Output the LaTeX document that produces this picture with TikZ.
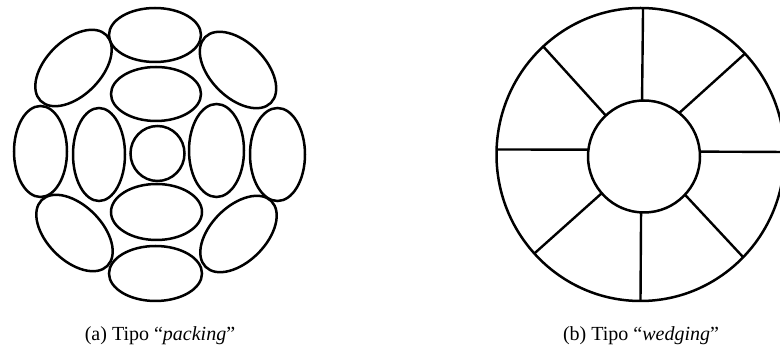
\documentclass[tikz,border=0pt]{standalone}
\usepackage{fontspec}
\setmainfont{Liberation Serif}
\usetikzlibrary{shapes.geometric}
\begin{document}
\begin{tikzpicture}[x=1pt,y=1pt,
  cell/.style={ellipse, draw=black, line width=2.5pt, inner sep=0pt, outer sep=0pt},
  spoke/.style={draw=black, line width=2.4pt},
  captext/.style={font=\fontsize{20}{24}\selectfont, anchor=base, inner sep=0pt}]
\clip (0,0) rectangle (780,353);
\fill[white] (0,0) rectangle (780,353);
% ---- (a) packing ----
\node[cell, minimum width=54pt, minimum height=55pt] (c0) at (157.5,199.5) {};
\node[cell, minimum width=90pt, minimum height=54pt] (ti) at (156,259) {};
\node[cell, minimum width=91pt, minimum height=56pt] (bi) at (156.5,141) {};
\node[cell, minimum width=92pt, minimum height=54pt] (to) at (155,318) {};
\node[cell, minimum width=93pt, minimum height=55pt] (bo) at (155.5,79.5) {};
\node[cell, minimum width=52pt, minimum height=93pt] (li) at (99,198.5) {};
\node[cell, minimum width=55pt, minimum height=93pt] (ri) at (216.5,202.5) {};
\node[cell, minimum width=53pt, minimum height=91pt] (lo) at (40.5,201.5) {};
\node[cell, minimum width=55pt, minimum height=93pt] (ro) at (277.5,198.5) {};
\node[cell, minimum width=93pt, minimum height=55pt, rotate=45] (tl) at (73.5,285) {};
\node[cell, minimum width=93pt, minimum height=55pt, rotate=-45] (tr) at (238,283) {};
\node[cell, minimum width=93pt, minimum height=55pt, rotate=-45] (bl) at (74.5,120) {};
\node[cell, minimum width=93pt, minimum height=55pt, rotate=45] (br) at (238.5,119) {};
% ---- (b) wedging ----
\node[cell, minimum width=288pt, minimum height=293pt] (out) at (640.5,198.5) {};
\node[cell, minimum width=112pt, minimum height=112pt] (in) at (644,196.5) {};
\draw[spoke] (in.92) -- (out.89.5);
\draw[spoke] (in.51) -- (out.44.5);
\draw[spoke] (in.5) -- (out.1);
\draw[spoke] (in.-43) -- (out.-45);
\draw[spoke] (in.-93) -- (out.-90);
\draw[spoke] (in.221) -- (out.223);
\draw[spoke] (in.173) -- (out.178);
\draw[spoke] (in.133) -- (out.132.5);
% ---- captions ----
\node[captext] (capa) at (160,12) {(a) Tipo “\textit{packing}”};
\node[captext] (capb) at (641,12) {(b) Tipo “\textit{wedging}”};
\end{tikzpicture}
\end{document}
